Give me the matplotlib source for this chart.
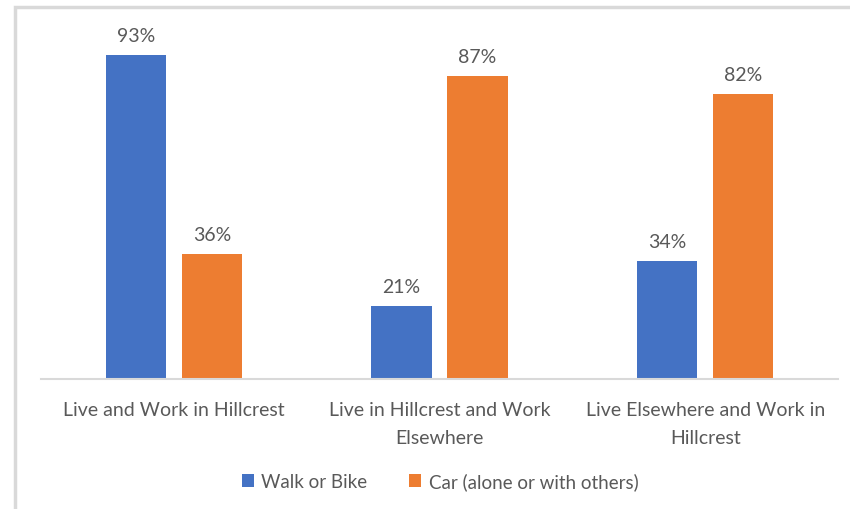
import numpy as np
import matplotlib.pyplot as plt
from matplotlib.patches import Rectangle

categories = ["Live and Work in Hillcrest",
              "Live in Hillcrest and Work\nElsewhere",
              "Live Elsewhere and Work in\nHillcrest"]
walk_bike = [93, 21, 34]
car = [36, 87, 82]
series_names = ["Walk or Bike", "Car (alone or with others)"]

blue = "#4472C4"
orange = "#ED7D31"
text_col = "#595959"
grid_col = "#D9D9D9"

plt.rcParams['font.family'] = ['Lato', 'DejaVu Sans']

fig = plt.figure(figsize=(8.5, 5.1), dpi=100)
ax = fig.add_axes([41 / 850, 1 - 380 / 510, 797 / 850, 348 / 510])

# light outer frame, running off the right and bottom edges
fig.patches.append(Rectangle((15 / 850, -0.1), 1.2, 1.1 - 8 / 510,
                             transform=fig.transFigure, fill=False,
                             edgecolor=grid_col, linewidth=2.5))

x = np.arange(len(categories))
w = 0.226
off = 0.143
b1 = ax.bar(x - off, walk_bike, w, color=blue, label=series_names[0])
b2 = ax.bar(x + off, car, w, color=orange, label=series_names[1])

for bars in (b1, b2):
    for rect in bars:
        ax.annotate(f"{rect.get_height():.0f}%",
                    (rect.get_x() + rect.get_width() / 2, rect.get_height()),
                    xytext=(0, 8), textcoords="offset points",
                    ha="center", va="bottom", fontsize=14, color=text_col)

ax.set_xlim(-0.5, 2.5)
ax.set_ylim(0, 100)
ax.set_yticks([])
ax.set_xticks(x)
ax.set_xticklabels(categories, fontsize=14, color=text_col, linespacing=1.75)
ax.tick_params(axis="x", length=0, pad=16)
for s in ("top", "right", "left"):
    ax.spines[s].set_visible(False)
ax.spines["bottom"].set_color(grid_col)
ax.spines["bottom"].set_linewidth(1.5)

fig.legend(handles=[b1, b2], loc="center", ncol=2, frameon=False,
           bbox_to_anchor=(440 / 850, 1 - 482 / 510), fontsize=13.5,
           handlelength=0.65, handleheight=0.65, handletextpad=0.4,
           columnspacing=2.2, labelcolor=text_col)

fig.savefig("out.png", dpi=100)
